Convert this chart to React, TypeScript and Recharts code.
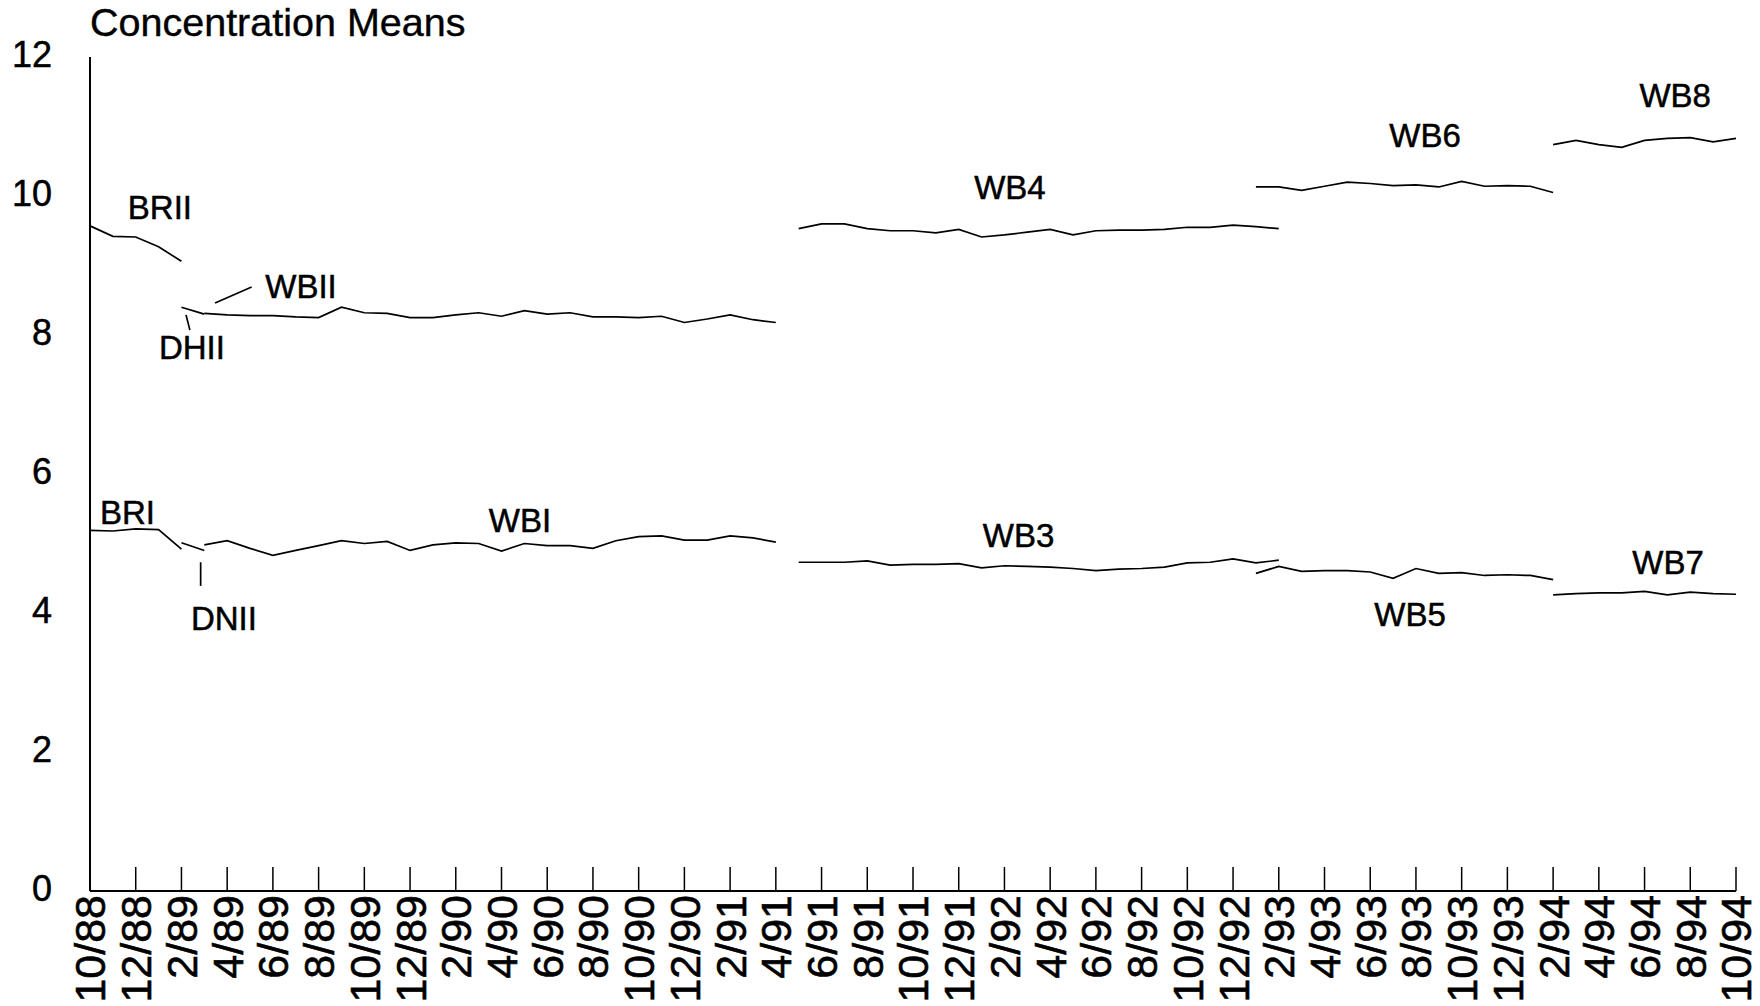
import { LineChart, Line, XAxis, YAxis, ReferenceDot, ReferenceLine } from "recharts";

// month categories, 10/88 .. 10/94
const months = [
  "10/88", "11/88", "12/88",
  "1/89", "2/89", "3/89", "4/89", "5/89", "6/89", "7/89", "8/89", "9/89", "10/89", "11/89", "12/89",
  "1/90", "2/90", "3/90", "4/90", "5/90", "6/90", "7/90", "8/90", "9/90", "10/90", "11/90", "12/90",
  "1/91", "2/91", "3/91", "4/91", "5/91", "6/91", "7/91", "8/91", "9/91", "10/91", "11/91", "12/91",
  "1/92", "2/92", "3/92", "4/92", "5/92", "6/92", "7/92", "8/92", "9/92", "10/92", "11/92", "12/92",
  "1/93", "2/93", "3/93", "4/93", "5/93", "6/93", "7/93", "8/93", "9/93", "10/93", "11/93", "12/93",
  "1/94", "2/94", "3/94", "4/94", "5/94", "6/94", "7/94", "8/94", "9/94", "10/94",
];

const yTicks = [0, 2, 4, 6, 8, 10, 12];

// upper group
const brii = [9.57, 9.42, 9.41, 9.27, 9.06];
const dhii = [8.4, 8.3];
const wbii = [
  8.31, 8.29, 8.28, 8.28, 8.26, 8.25, 8.4, 8.32, 8.31, 8.25, 8.25, 8.29, 8.32,
  8.27, 8.35, 8.3, 8.32, 8.26, 8.26, 8.25, 8.27, 8.18, 8.23, 8.29, 8.22, 8.18,
];
const wb4 = [
  9.53, 9.6, 9.6, 9.53, 9.5, 9.5, 9.47, 9.52, 9.41, 9.44, 9.48, 9.52, 9.44, 9.5,
  9.51, 9.51, 9.52, 9.55, 9.55, 9.58, 9.56, 9.53,
];
const wb6 = [10.13, 10.13, 10.08, 10.14, 10.2, 10.18, 10.15, 10.16, 10.13, 10.21, 10.14, 10.15, 10.14, 10.05];
const wb8 = [10.74, 10.8, 10.74, 10.7, 10.8, 10.83, 10.84, 10.78, 10.83];

// lower group
const bri = [5.19, 5.18, 5.21, 5.2, 4.92];
const dnii = [5.01, 4.9];
const wbi = [
  4.98, 5.04, 4.93, 4.83, 4.9, 4.97, 5.04, 5.0, 5.03, 4.9, 4.98, 5.01, 5.0,
  4.89, 5.0, 4.97, 4.97, 4.93, 5.04, 5.1, 5.11, 5.05, 5.05, 5.11, 5.08, 5.02,
];
const wb3 = [
  4.73, 4.73, 4.73, 4.75, 4.69, 4.7, 4.7, 4.71, 4.65, 4.68, 4.67, 4.66, 4.64, 4.61,
  4.63, 4.64, 4.66, 4.72, 4.73, 4.78, 4.72, 4.76,
];
const wb5 = [4.57, 4.67, 4.6, 4.61, 4.61, 4.59, 4.5, 4.64, 4.57, 4.58, 4.54, 4.55, 4.54, 4.48];
const wb7 = [4.26, 4.28, 4.29, 4.29, 4.31, 4.26, 4.3, 4.28, 4.27];

// name, first month index, values
const segments: [string, number, number[]][] = [
  ["BRII", 0, brii],
  ["DHII", 4, dhii],
  ["WBII", 5, wbii],
  ["WB4", 31, wb4],
  ["WB6", 51, wb6],
  ["WB8", 64, wb8],
  ["BRI", 0, bri],
  ["DNII", 4, dnii],
  ["WBI", 5, wbi],
  ["WB3", 31, wb3],
  ["WB5", 51, wb5],
  ["WB7", 64, wb7],
];

const rows = months.map((m, i) => {
  const row: Record<string, number | string> = { idx: i, month: m };
  segments.forEach(([key, start, vals]) => {
    if (i >= start && i < start + vals.length) row[key] = vals[i - start];
  });
  return row;
});

const tickIdx = months.map((_, i) => i).filter((i) => i % 2 === 0);

// label placement in chart units (month index, value)
const tags: [string, number, number][] = [
  ["BRII", 3.06, 9.84],
  ["WBII", 9.23, 8.71],
  ["DHII", 4.46, 7.83],
  ["BRI", 1.64, 5.45],
  ["DNII", 5.86, 3.93],
  ["WBI", 18.81, 5.34],
  ["WB4", 40.24, 10.13],
  ["WB3", 40.62, 5.12],
  ["WB6", 58.4, 10.88],
  ["WB8", 69.34, 11.45],
  ["WB5", 57.74, 3.99],
  ["WB7", 69.03, 4.73],
];

const leaders: [number, number, number, number][] = [
  [5.47, 8.46, 7.07, 8.69],
  [4.2, 8.29, 4.37, 8.07],
  [4.84, 4.73, 4.84, 4.39],
];

const FONT = "'Liberation Sans', Arial, Helvetica, sans-serif";

const XTick = (props: any) => {
  const { x, y, payload } = props;
  return (
    <g>
      <line x1={x} y1={y} x2={x} y2={y - 24} stroke="#000" strokeWidth={1.5} />
      <text
        x={x}
        y={y + 4}
        transform={`rotate(-90, ${x}, ${y + 4})`}
        textAnchor="end"
        dy="0.36em"
        fontSize={43}
        fontFamily={FONT}
        fill="#000"
        stroke="#000"
        strokeWidth={0.6}
      >
        {months[payload.value]}
      </text>
    </g>
  );
};

const YTick = (props: any) => {
  const { y, payload } = props;
  return (
    <text
      x={52}
      y={y}
      dy="0.28em"
      textAnchor="end"
      fontSize={36}
      fontFamily={FONT}
      fill="#000"
      stroke="#000"
      strokeWidth={0.5}
    >
      {payload.value}
    </text>
  );
};

export default function App() {
  return (
    <div style={{ position: "absolute", left: 0, top: 0, width: 1760, height: 1006, background: "#fff" }}>
      <div
        style={{
          position: "absolute",
          left: 90,
          top: 3,
          fontSize: 39.5,
          lineHeight: 1,
          fontFamily: FONT,
          color: "#000",
          whiteSpace: "nowrap",
          WebkitTextStroke: "0.4px #000",
        }}
      >
        Concentration Means
      </div>
      <LineChart width={1760} height={1006} data={rows} margin={{ top: 57, right: 24, left: 0, bottom: 0 }}>
        <XAxis
          dataKey="idx"
          type="number"
          domain={[0, 72]}
          ticks={tickIdx}
          interval={0}
          height={115}
          tickSize={0}
          tickMargin={0}
          tickLine={false}
          axisLine={{ stroke: "#000", strokeWidth: 2 }}
          tick={<XTick />}
        />
        <YAxis
          type="number"
          domain={[0, 12]}
          ticks={yTicks}
          width={90}
          tickSize={0}
          tickLine={false}
          axisLine={{ stroke: "#000", strokeWidth: 2 }}
          tick={<YTick />}
        />
        {segments.map(([key]) => (
          <Line
            key={key}
            dataKey={key}
            type="linear"
            stroke="#000"
            strokeWidth={1.7}
            dot={false}
            activeDot={false}
            connectNulls={false}
            isAnimationActive={false}
          />
        ))}
        {leaders.map(([x1, y1, x2, y2], i) => (
          <ReferenceLine
            key={"l" + i}
            segment={[
              { x: x1, y: y1 },
              { x: x2, y: y2 },
            ]}
            stroke="#000"
            strokeWidth={1.7}
          />
        ))}
        {tags.map(([name, x, y]) => (
          <ReferenceDot
            key={"t" + name}
            x={x}
            y={y}
            r={0}
            shape={(p: any) => (
              <text
                x={p.cx}
                y={p.cy}
                dy="0.36em"
                textAnchor="middle"
                fontSize={33}
                fontFamily={FONT}
                fill="#000"
                stroke="#000"
                strokeWidth={0.5}
              >
                {name}
              </text>
            )}
          />
        ))}
      </LineChart>
    </div>
  );
}
